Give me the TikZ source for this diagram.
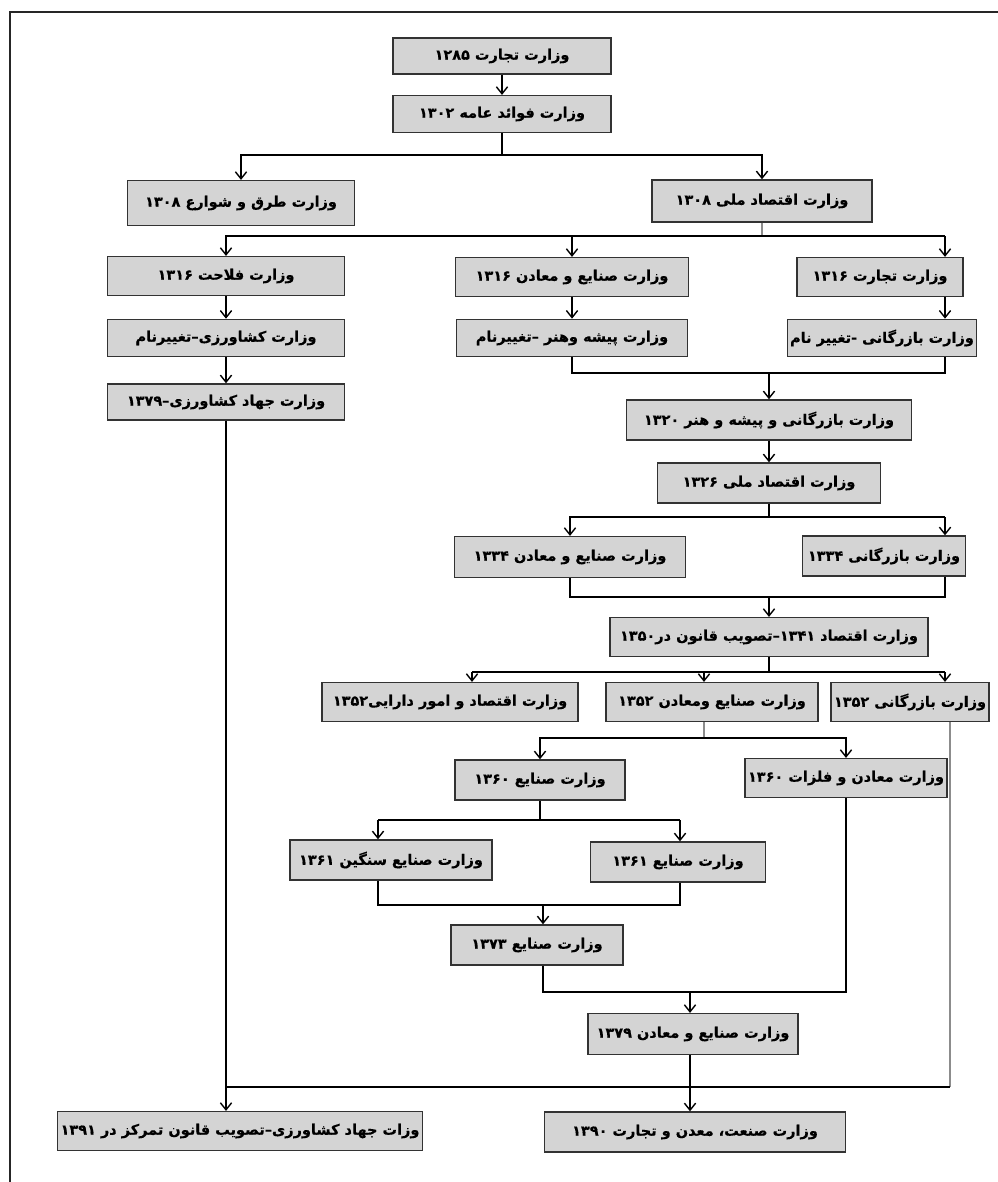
\documentclass[tikz,border=0pt]{standalone}
\usepackage{fontspec}
\newfontfamily\farsi[Script=Arabic, BoldFont={DejaVu Sans Bold}, BoldFeatures={FakeBold=0.4}]{DejaVu Sans}
\TeXXeTstate=1
\usetikzlibrary{arrows.meta}
\newcommand{\fatext}[1]{{\farsi\bfseries\beginR #1\endR}}

\tikzset{
  box/.style={draw=black!80, fill=black!17, line width=1pt,
    minimum width=#1, minimum height=0.97cm, inner sep=2pt,
    font=\fontsize{10.3}{12}\selectfont},
  ln/.style={draw=black, line width=1pt},
  gln/.style={draw=black!45, line width=1pt},
  arr/.style={ln, -{Straight Barb[length=5pt,width=8pt]}}
}

\begin{document}
\begin{tikzpicture}[x=0.025cm, y=-0.025cm]

\useasboundingbox (0,0) rectangle (998,1182);
% frame
\draw[line width=1.6pt, black!85] (10,1182) -- (10,12) -- (998,12);

% boxes
\node[box=5.45cm, minimum height=0.9cm] (tj85) at (502,56) {\fatext{وزارت تجارت ۱۲۸۵}};
\node[box=5.45cm, minimum height=0.92cm] (fa02) at (502,114) {\fatext{وزارت فوائد عامه ۱۳۰۲}};
\node[box=5.675cm, minimum height=1.12cm] (tr08) at (241,203) {\fatext{وزارت طرق و شوارع ۱۳۰۸}};
\node[box=5.5cm, minimum height=1.05cm] (eq08) at (762,201) {\fatext{وزارت اقتصاد ملی ۱۳۰۸}};

\node[box=5.925cm] (fl16) at (226,276) {\fatext{وزارت فلاحت ۱۳۱۶}};
\node[box=5.825cm] (sm16) at (572,277) {\fatext{وزارت صنایع و معادن ۱۳۱۶}};
\node[box=4.15cm] (tj16) at (880,277) {\fatext{وزارت تجارت ۱۳۱۶}};

\node[box=5.925cm, minimum height=0.93cm] (ks) at (226,338) {\fatext{وزارت کشاورزی–تغییرنام}};
\node[box=5.775cm, minimum height=0.93cm] (ph) at (572,338) {\fatext{وزارت پیشه وهنر –تغییرنام}};
\node[box=4.3cm, minimum height=0.93cm] (bz) at (882,338) {\fatext{وزارت بازرگانی -تغییر نام}};
\node[box=5.925cm, minimum height=0.9cm] (jk79) at (226,402) {\fatext{وزارت جهاد کشاورزی–۱۳۷۹}};

\node[box=7.125cm, minimum height=1cm] (bph20) at (769,420) {\fatext{وزارت بازرگانی و پیشه و هنر ۱۳۲۰}};
\node[box=5.575cm, minimum height=1cm] (eq26) at (769,483) {\fatext{وزارت اقتصاد ملی ۱۳۲۶}};
\node[box=5.775cm, minimum height=1.02cm] (sm34) at (570,557) {\fatext{وزارت صنایع و معادن ۱۳۳۴}};
\node[box=4.075cm, minimum height=1cm] (bz34) at (884,556) {\fatext{وزارت بازرگانی ۱۳۳۴}};
\node[box=7.95cm] (eq41) at (769,637) {\fatext{وزارت اقتصاد ۱۳۴۱–تصویب قانون در۱۳۵۰}};

\node[box=6.4cm] (ed52) at (450,702) {\fatext{وزارت اقتصاد و امور دارایی۱۳۵۲}};
\node[box=5.3cm] (sm52) at (712,702) {\fatext{وزارت صنایع ومعادن ۱۳۵۲}};
\node[box=3.15cm] (bz52) at (910,702) {\fatext{وزارت بازرگانی ۱۳۵۲}};

\node[box=4.25cm, minimum height=1cm] (s60) at (540,780) {\fatext{وزارت صنایع ۱۳۶۰}};
\node[box=4.7cm] (mf60) at (846,778) {\fatext{وزارت معادن و فلزات ۱۳۶۰}};
\node[box=5.05cm, minimum height=1cm] (ss61) at (391,860) {\fatext{وزارت صنایع سنگین ۱۳۶۱}};
\node[box=4.375cm, minimum height=1cm] (s61) at (678,862) {\fatext{وزارت صنایع ۱۳۶۱}};
\node[box=4.3cm, minimum height=1cm] (s73) at (537,945) {\fatext{وزارت صنایع ۱۳۷۳}};
\node[box=5.25cm, minimum height=1.02cm] (sm79) at (693,1034) {\fatext{وزارت صنایع و معادن ۱۳۷۹}};

\node[box=8.65cm] (jk91) at (240,1131) {\fatext{وزات جهاد کشاورزی–تصویب قانون تمرکز در ۱۳۹۱}};
\node[box=7.525cm, minimum height=1cm] (smt90) at (695,1132) {\fatext{وزارت صنعت، معدن و تجارت ۱۳۹۰}};

% 1285 -> 1302 -> 1308
\draw[arr] (tj85) -- (fa02);
\coordinate (s1) at (502,155);
\draw[ln] (fa02) -- (s1);
\draw[arr] (s1) -| (tr08.north);
\draw[arr] (s1) -| (eq08.north);

% 1308 -> 1316
\coordinate (s2) at (762,236);
\coordinate (s2r) at (945,236);
\draw[gln] (eq08) -- (s2);
\draw[arr] (s2) -| (fl16.north);
\draw[arr] (s2 -| sm16.north) -- (sm16.north);
\draw[ln] (s2) -- (s2r);
\draw[arr] (s2r) -- (s2r |- tj16.north);

\draw[arr] (fl16) -- (ks);
\draw[arr] (ks) -- (jk79);
\draw[arr] (sm16) -- (ph);
\draw[arr] (s2r |- tj16.south) -- (s2r |- bz.north);

% 1320, 1326
\coordinate (m1) at (769,373);
\draw[ln] (ph.south) |- (m1);
\draw[ln] (s2r |- bz.south) |- (m1);
\draw[arr] (m1) -- (m1 |- bph20.north);
\draw[arr] (bph20) -- (eq26);

% 1334
\coordinate (s3) at (769,517);
\coordinate (s3r) at (945,517);
\draw[ln] (eq26) -- (s3);
\draw[arr] (s3) -| (sm34.north);
\draw[ln] (s3) -- (s3r);
\draw[arr] (s3r) -- (s3r |- bz34.north);

% 1341
\coordinate (m2) at (769,597);
\draw[ln] (sm34.south) |- (m2);
\draw[ln] (s3r |- bz34.south) |- (m2);
\draw[arr] (m2) -- (m2 |- eq41.north);

% 1352
\coordinate (s4) at (769,672);
\coordinate (s4l) at (472,672);
\coordinate (s4m) at (704,672);
\coordinate (s4r) at (945,672);
\draw[ln] (eq41) -- (s4);
\draw[ln] (s4l) -- (s4r);
\draw[arr] (s4l) -- (s4l |- ed52.north);
\draw[arr] (s4m) -- (s4m |- sm52.north);
\draw[arr] (s4r) -- (s4r |- bz52.north);

% 1360
\coordinate (s5) at (704,738);
\draw[gln] (s5 |- sm52.south) -- (s5);
\draw[arr] (s5) -| (s60.north);
\draw[arr] (s5) -| (mf60.north);

% 1361
\coordinate (s6) at (540,820);
\coordinate (s6l) at (378,820);
\coordinate (s6r) at (680,820);
\draw[ln] (s60) -- (s6);
\draw[ln] (s6l) -- (s6r);
\draw[arr] (s6l) -- (s6l |- ss61.north);
\draw[arr] (s6r) -- (s6r |- s61.north);

% 1373
\coordinate (m3) at (543,905);
\draw[ln] (s6l |- ss61.south) |- (m3);
\draw[ln] (s6r |- s61.south) |- (m3);
\draw[arr] (m3) -- (m3 |- s73.north);

% 1379
\coordinate (m4) at (690,992);
\draw[ln] (m3 |- s73.south) |- (m4);
\draw[ln] (mf60.south) |- (m4);
\draw[arr] (m4) -- (m4 |- sm79.north);

% 1390, 1391
\coordinate (b9) at (690,1087);
\coordinate (b9l) at (226,1087);
\coordinate (r1) at (950,1087);
\draw[gln] (r1 |- bz52.south) -- (r1);
\draw[ln] (m4 |- sm79.south) -- (b9);
\draw[ln] (jk79) -- (b9l);
\draw[ln] (b9l) -- (r1);
\draw[arr] (b9l) -- (b9l |- jk91.north);
\draw[arr] (b9) -- (b9 |- smt90.north);

\end{tikzpicture}
\end{document}
